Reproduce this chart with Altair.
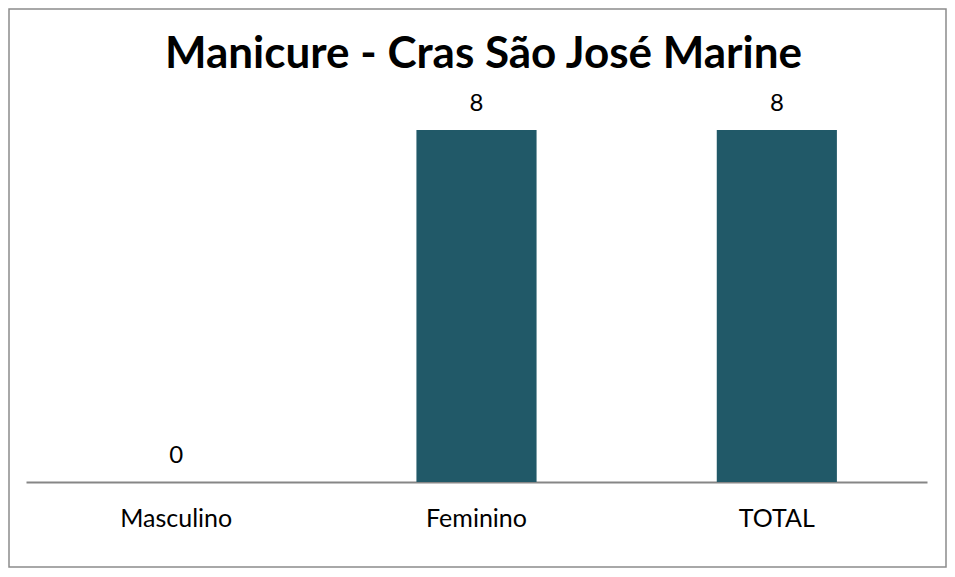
import altair as alt
import pandas as pd

categories = ["Masculino", "Feminino", "TOTAL"]
values = [0, 8, 8]
title_text = "Manicure - Cras São José Marine"

df = pd.DataFrame({"cat": categories, "val": values})

FONT = "Lato"
W, H = 901, 396

x_enc = alt.X("cat:N", sort=categories, title=None,
              scale=alt.Scale(paddingInner=0.6, paddingOuter=0.3),
              axis=alt.Axis(labelAngle=0, ticks=False, domain=True, domainColor="#868686",
                            domainWidth=2, labelFontSize=25, labelFont=FONT, labelColor="#000000",
                            labelPadding=24, grid=False))
y_enc = alt.Y("val:Q", title=None, scale=alt.Scale(domain=[0, 9], nice=False), axis=None)

bars = alt.Chart(df).mark_bar(color="#215968").encode(x=x_enc, y=y_enc)
labels = alt.Chart(df).mark_text(baseline="bottom", dy=-14, fontSize=24, font=FONT, color="#000000").encode(
    x=alt.X("cat:N", sort=categories), y=alt.Y("val:Q"), text=alt.Text("val:Q"))

border = alt.Chart(pd.DataFrame({"a": [0]})).mark_rect(
    fill=None, stroke="#8c8c8c", strokeWidth=1.5, clip=False).encode(
    x=alt.value(-17), x2=alt.value(W + 19), y=alt.value(-77), y2=alt.value(H + 85))

title_mark = alt.Chart(pd.DataFrame({"a": [0]})).mark_text(
    fontSize=44, font=FONT, fontWeight="bold", color="#000000", align="center",
    baseline="alphabetic", clip=False).encode(
    x=alt.value(W / 2 + 7), y=alt.value(-18), text=alt.value(title_text))

chart = alt.layer(border, bars, labels, title_mark).properties(
    width=W, height=H,
    padding={"left": 18, "top": 78, "right": 20, "bottom": 87},
    autosize=alt.AutoSizeParams(type="none"),
).configure_view(stroke=None)

chart.save("out.html", embed_options={"renderer": "svg", "actions": False})
